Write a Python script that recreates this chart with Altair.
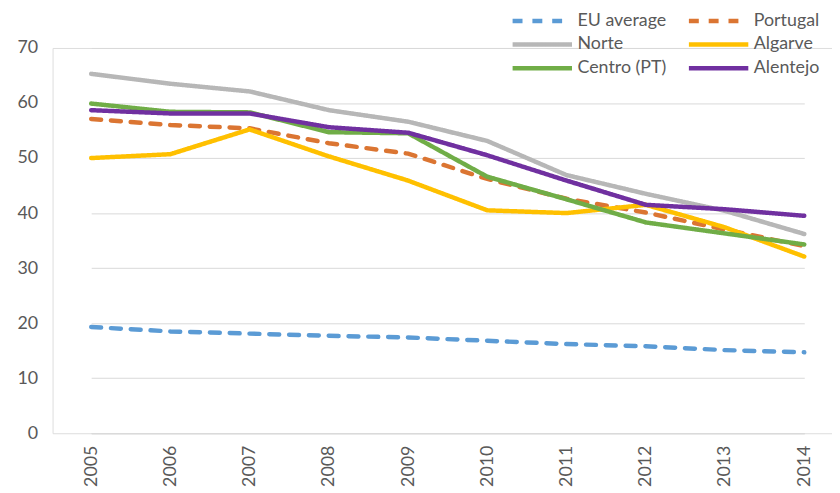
import altair as alt
import pandas as pd

years = ["2005", "2006", "2007", "2008", "2009", "2010", "2011", "2012", "2013", "2014"]
series_names = ["EU average", "Portugal", "Norte", "Algarve", "Centro (PT)", "Alentejo"]
eu_average = [19.3, 18.5, 18.1, 17.7, 17.4, 16.8, 16.2, 15.8, 15.1, 14.7]
portugal = [57.1, 56.0, 55.4, 52.7, 50.8, 46.2, 42.6, 40.1, 37.0, 34.0]
norte = [65.3, 63.5, 62.1, 58.7, 56.6, 53.1, 46.9, 43.5, 40.4, 36.2]
algarve = [50.0, 50.7, 55.2, 50.3, 45.9, 40.5, 40.0, 41.5, 37.4, 32.1]
centro = [59.9, 58.4, 58.3, 54.7, 54.5, 46.6, 42.5, 38.3, 36.3, 34.3]
alentejo = [58.7, 58.1, 58.1, 55.6, 54.6, 50.5, 45.9, 41.5, 40.7, 39.5]

colors = ["#5B9BD5", "#DB7532", "#B7B7B7", "#FFC000", "#70AD47", "#7030A0"]
dashes = [[10, 10], [10, 10], [1, 0], [1, 0], [1, 0], [1, 0]]
widths = [4.5, 4.5, 2.5, 2.5, 2.5, 2.5]

values = [eu_average, portugal, norte, algarve, centro, alentejo]
rows = []
for name, vals in zip(series_names, values):
    for y, v in zip(years, vals):
        rows.append({"year": y, "series": name, "value": v})
df = pd.DataFrame(rows)

FONT = "Lato"
GREY = "#595959"

legend = alt.Legend(
    title=None,
    orient="none",
    legendX=462,
    legendY=-40,
    direction="horizontal",
    columns=2,
    columnPadding=13,
    rowPadding=2,
    symbolType="M-1,0H5",
    symbolSize=400,
    labelFontSize=18,
    labelFont=FONT,
    labelColor=GREY,
    labelOffset=43,
    labelLimit=200,
)

chart = alt.Chart(df).mark_line(strokeCap="round").encode(
    x=alt.X(
        "year:O",
        sort=years,
        scale=alt.Scale(type="point", range=[39, 759], padding=0),
        axis=alt.Axis(
            title=None,
            labelAngle=270,
            labelFontSize=18,
            labelFont=FONT,
            labelColor=GREY,
            labelPadding=12,
            ticks=False,
            domain=True,
            domainColor="#D9D9D9",
            grid=False,
            labelAlign="right",
            labelBaseline="middle",
        ),
    ),
    y=alt.Y(
        "value:Q",
        scale=alt.Scale(domain=[0, 70]),
        axis=alt.Axis(
            title=None,
            values=[0, 10, 20, 30, 40, 50, 60, 70],
            labelFontSize=18,
            labelFont=FONT,
            labelColor=GREY,
            labelPadding=15,
            ticks=False,
            domain=False,
            gridColor="#D9D9D9",
            gridWidth=1,
        ),
    ),
    color=alt.Color(
        "series:N",
        sort=series_names,
        scale=alt.Scale(domain=series_names, range=colors),
        legend=legend,
    ),
    strokeDash=alt.StrokeDash(
        "series:N",
        sort=series_names,
        scale=alt.Scale(domain=series_names, range=dashes),
        legend=legend,
    ),
    strokeWidth=alt.StrokeWidth(
        "series:N",
        sort=series_names,
        scale=alt.Scale(domain=series_names, range=widths),
        legend=legend,
    ),
    order=alt.Order("year:O"),
).properties(
    width=787,
    height=389,
    autosize=alt.AutoSizeParams(type="none"),
    padding={"left": 45, "top": 38, "right": 0, "bottom": 60},
).configure_view(strokeWidth=0).configure(background="white")

chart.save("out.html", embed_options={"renderer": "svg", "actions": False})
